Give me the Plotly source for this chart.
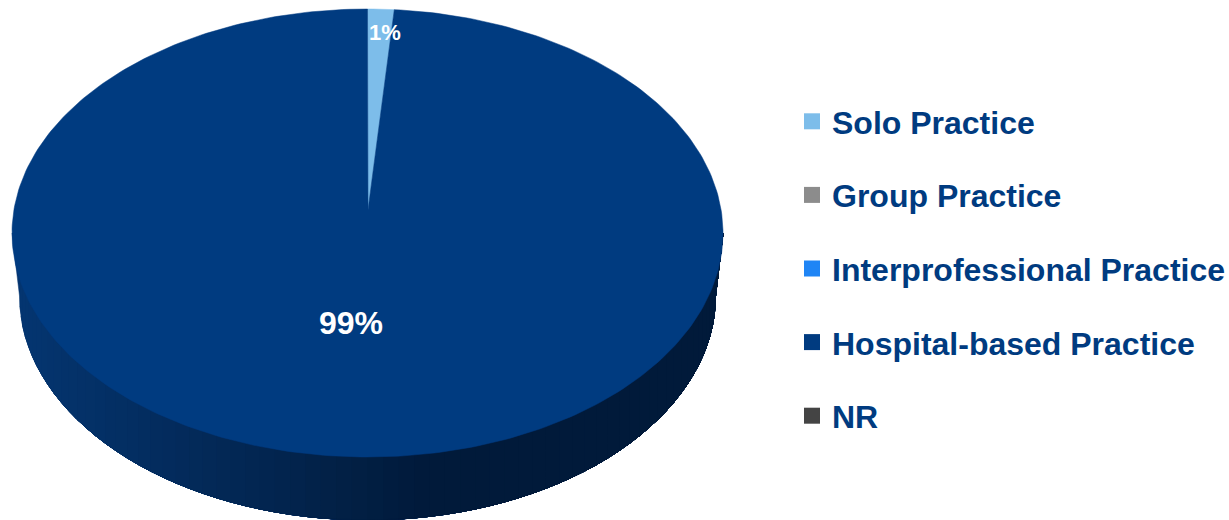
import math
import plotly.graph_objects as go

# Data
categories = ["Solo Practice", "Group Practice", "Interprofessional Practice", "Hospital-based Practice", "NR"]
values = [1.2, 0, 0, 98.8, 0]
pct_labels = ["1%", "", "", "99%", ""]
colors = ["#7DBDEA", "#8C8C8C", "#1F85F5", "#003B80", "#444444"]

# Projection of the tilted pie, in canvas pixels
W, H = 1229, 520
CX, CY, RX, RY = 367.5, 233.0, 355.5, 224.0
APEX_X, APEX_Y = 368.0, 210.0
BCX, BCY, BRX, BRY = 367.5, 296.0, 348.0, 224.0


def top_pt(frac):
    a = 2 * math.pi * frac
    return CX + RX * math.sin(a), CY - RY * math.cos(a)


def slice_poly(f0, f1, n=360):
    steps = max(2, int(n * (f1 - f0)) + 2)
    pts = [top_pt(f0 + (f1 - f0) * i / (steps - 1)) for i in range(steps)]
    xs = [APEX_X] + [p[0] for p in pts] + [APEX_X]
    ys = [APEX_Y] + [p[1] for p in pts] + [APEX_Y]
    return xs, ys


def side_color(x):
    t = min(1.0, max(0.0, (x - 20) / 400))
    c0, c1 = (4, 53, 112), (1, 26, 58)
    return "rgb(%d,%d,%d)" % tuple(round(a + (b - a) * t) for a, b in zip(c0, c1))


fig = go.Figure()

# Side wall of the disc, painted left to right
N = 70
arc = []
for i in range(N + 1):
    a = math.pi - math.pi * i / N
    arc.append((BCX + BRX * math.cos(a), BCY + BRY * math.sin(a)))
for k in range(N):
    pts = arc[k:]
    xs = [p[0] for p in pts] + [CX + RX, pts[0][0] if k else CX - RX]
    ys = [p[1] for p in pts] + [CY, CY]
    if k == 0:
        xs = [CX - RX] + xs
        ys = [CY] + ys
    col = side_color(pts[0][0])
    fig.add_trace(go.Scatter(x=xs, y=ys, mode="lines", fill="toself", fillcolor=col,
                             line=dict(width=0.5, color=col), hoverinfo="skip", showlegend=False))

# Top face slices
total = sum(values)
start = 0.0
for name, v, col, lab in zip(categories, values, colors, pct_labels):
    if v <= 0:
        continue
    end = start + v / total
    xs, ys = slice_poly(start, end)
    fig.add_trace(go.Scatter(x=xs, y=ys, mode="lines", fill="toself", fillcolor=col,
                             line=dict(width=0.5, color=col), name=name, hoverinfo="name", showlegend=False))
    start = end

# Legend entries
for name, col in zip(categories, colors):
    fig.add_trace(go.Scatter(x=[None], y=[None], mode="markers", name=name, legendgroup=name,
                             marker=dict(symbol="square", size=16, color=col)))

fig.add_annotation(x=384.5, y=32, text="<b>%s</b>" % pct_labels[0], showarrow=False,
                   font=dict(size=22, color="white", family="Liberation Sans"))
fig.add_annotation(x=351, y=323, text="<b>%s</b>" % pct_labels[3], showarrow=False,
                   font=dict(size=32, color="white", family="Liberation Sans"))

fig.update_layout(
    width=W, height=H, margin=dict(l=0, r=0, t=0, b=0, autoexpand=False),
    paper_bgcolor="white", plot_bgcolor="white",
    xaxis=dict(range=[0, W], visible=False, fixedrange=True),
    yaxis=dict(range=[H, 0], visible=False, fixedrange=True),
    legend=dict(x=792 / W, y=1 - 94 / H, xanchor="left", yanchor="top",
                font=dict(size=32, color="#003B80", family="Liberation Sans", weight="bold"),
                tracegroupgap=29, bgcolor="rgba(0,0,0,0)", itemclick=False, itemdoubleclick=False),
)

fig.write_html("out.html", config={"displayModeBar": False},
               post_script="document.body.style.margin='0';")
